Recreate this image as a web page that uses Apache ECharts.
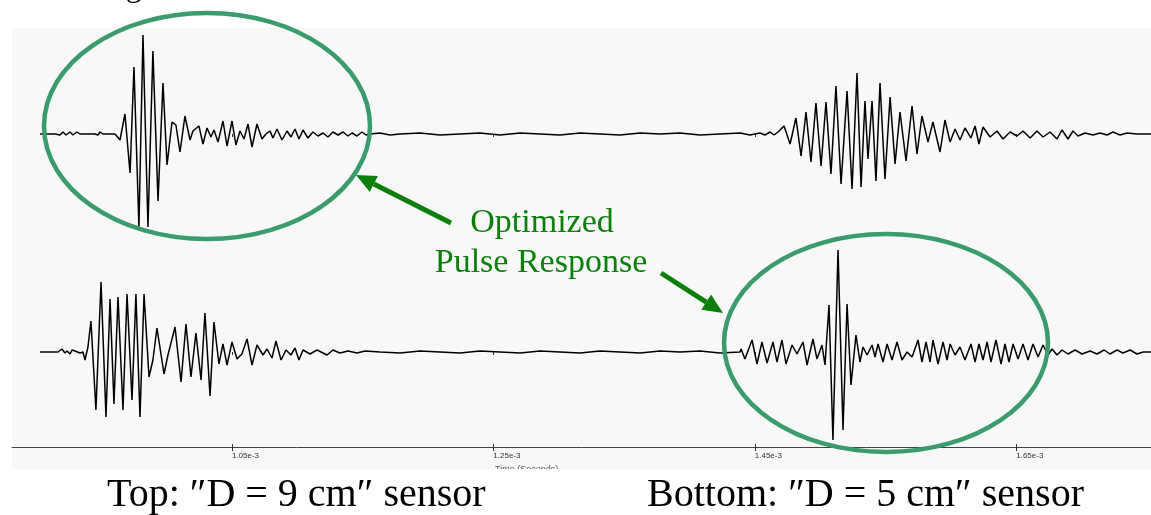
<!DOCTYPE html>
<html>
<head>
<meta charset="utf-8">
<script src="https://cdn.jsdelivr.net/npm/echarts@6/dist/echarts.min.js"></script>
<style>
  html, body { margin: 0; padding: 0; background: #ffffff; }
  #chart { width: 1151px; height: 515px; }
</style>
</head>
<body>
<div id="chart"></div>
<script>
// Time axis in microseconds; labels shown in seconds (e-3 notation)
const timeMin = 881.8;
const timeMax = 1753.1;
const tickTimes = [1050, 1250, 1450, 1650];

// Received waveform, "D = 9 cm" sensor: [time µs, amplitude]
const topTrace = [
  [903.2,0],[914.7,0],[918.5,-1],[920.8,2],[923.1,-1],[926.2,2],[928.4,-1],[931.5,2],[933.8,0],[945.3,0],
  [947.6,-1],[949.1,2],[951.4,0],[960.6,0],[962.1,2],[964.4,-6],[968.2,20],[972.1,-39],[975.1,67],[978.9,-93],
  [982.0,99],[985.8,-93],[989.6,83],[993.5,-67],[997.3,51],[1000.4,-31],[1004.2,12],[1007.2,9],[1010.3,-18],[1014.1,18],
  [1018.0,-6],[1020.2,3],[1024.8,8],[1027.9,-10],[1031.0,6],[1034.0,-3],[1036.3,4],[1039.4,-8],[1043.2,13],[1046.3,-12],
  [1050.1,13],[1053.1,-11],[1056.2,3],[1059.3,-5],[1062.3,10],[1065.4,-13],[1069.2,10],[1073.0,-5],[1076.1,0],[1079.2,3],
  [1081.4,-4],[1084.5,5],[1088.3,-6],[1092.2,3],[1095.2,-3],[1098.3,5],[1101.3,-5],[1104.4,4],[1108.2,-4],[1112.0,2],
  [1115.9,-2],[1119.7,1],[1123.5,-3],[1127.3,2],[1131.2,-1],[1135.0,2],[1138.8,-2],[1141.9,1],[1145.7,-2],[1149.5,2],
  [1152.6,-1],[1155.7,0],[1163.3,1],[1171.0,-1],[1178.6,0],[1193.9,1],[1209.2,-1],[1224.5,0],[1239.8,1],[1255.1,-1],
  [1270.4,1],[1285.7,0],[1301.0,-1],[1316.3,1],[1331.6,0],[1346.9,-1],[1362.2,1],[1377.5,0],[1392.8,1],[1408.1,-1],
  [1423.4,0],[1438.7,1],[1446.4,-1],[1454.0,1],[1457.8,-1],[1461.7,2],[1464.7,-1],[1467.8,2],[1472.4,8],[1477.0,-10],
  [1481.5,16],[1485.4,-22],[1489.2,22],[1493.0,-28],[1496.8,31],[1500.7,-32],[1504.5,32],[1508.3,-40],[1512.1,48],[1516.0,-50],
  [1520.6,43],[1524.4,-55],[1528.2,61],[1531.3,-53],[1534.3,33],[1536.6,-25],[1539.7,33],[1542.7,-47],[1545.8,51],[1549.6,-45],
  [1553.5,37],[1557.3,-30],[1561.1,22],[1565.7,-27],[1570.3,28],[1574.1,-20],[1577.9,18],[1582.5,-8],[1586.3,12],[1591.7,-18],
  [1595.5,14],[1599.4,-8],[1603.2,5],[1607.0,-6],[1610.8,6],[1615.4,-4],[1618.5,8],[1621.5,-10],[1624.6,7],[1630.0,-3],
  [1635.3,3],[1639.9,-5],[1645.3,2],[1650.6,-2],[1655.2,3],[1660.6,-4],[1665.9,3],[1670.5,-3],[1675.9,2],[1681.2,-5],
  [1685.0,4],[1689.6,-5],[1693.4,3],[1697.3,-2],[1702.6,1],[1708.7,-1],[1714.1,1],[1719.5,-1],[1724.0,2],[1729.4,-1],
  [1734.8,1],[1742.4,0],[1753.1,0]
];

// Received waveform, "D = 5 cm" sensor: [time µs, amplitude]
const bottomTrace = [
  [903.2,0],[917.0,0],[920.0,3],[922.3,-1],[923.9,1],[926.2,-2],[927.7,2],[930.0,1],[931.5,3],[933.8,-1],
  [936.1,0],[937.6,-8],[939.9,5],[942.2,31],[946.0,-58],[949.9,70],[953.7,-65],[956.8,53],[959.8,-52],[962.9,55],
  [966.7,-58],[969.8,58],[973.6,-48],[976.6,58],[979.7,-65],[982.8,58],[986.6,-25],[989.6,-8],[992.7,24],[998.1,-22],
  [1001.1,-3],[1006.5,25],[1011.1,-30],[1014.9,28],[1018.7,-25],[1022.5,19],[1026.4,-28],[1029.4,39],[1033.3,-44],[1036.3,30],
  [1040.1,-12],[1043.2,8],[1046.3,-13],[1050.1,10],[1053.9,-7],[1057.7,-2],[1061.6,13],[1065.4,-13],[1069.2,7],[1073.8,-3],
  [1076.9,3],[1080.7,-6],[1083.7,11],[1087.6,-8],[1091.4,2],[1095.2,-3],[1098.3,4],[1101.3,-8],[1104.4,2],[1109.8,-2],
  [1115.1,2],[1122.8,-3],[1127.3,2],[1132.7,-1],[1138.8,1],[1145.7,-1],[1151.8,1],[1163.3,0],[1178.6,-1],[1193.9,1],
  [1209.2,0],[1224.5,-1],[1239.8,1],[1255.1,0],[1270.4,-1],[1285.7,1],[1301.0,0],[1316.3,-1],[1331.6,1],[1346.9,0],
  [1362.2,-1],[1377.5,1],[1392.8,0],[1408.1,1],[1423.4,-1],[1438.7,0],[1439.5,3],[1442.5,-7],[1447.9,12],[1451.7,-12],
  [1455.5,10],[1459.4,-11],[1463.9,10],[1467.0,-10],[1470.8,12],[1473.9,-12],[1478.5,7],[1482.3,-2],[1486.9,10],[1490.0,-13],
  [1494.5,13],[1497.6,-7],[1501.4,7],[1503.7,-13],[1506.8,47],[1509.8,-88],[1513.7,102],[1517.5,-78],[1520.6,48],[1523.6,-33],
  [1527.4,17],[1530.5,-10],[1532.8,5],[1535.9,-3],[1539.7,7],[1542.0,-5],[1544.3,8],[1548.1,-10],[1551.2,8],[1555.0,-8],
  [1558.8,10],[1562.6,-8],[1566.5,0],[1570.3,-5],[1574.9,12],[1577.9,-10],[1581.0,10],[1584.1,-10],[1586.3,12],[1590.2,-12],
  [1594.0,10],[1597.1,-8],[1599.4,8],[1603.2,-3],[1607.0,5],[1610.8,-8],[1615.4,8],[1618.5,-10],[1621.5,8],[1624.6,-8],
  [1627.7,10],[1630.7,-10],[1634.5,12],[1638.4,-12],[1641.4,8],[1644.5,-10],[1647.6,8],[1651.4,-7],[1655.2,8],[1659.0,-8],
  [1662.8,8],[1666.7,-5],[1670.5,7],[1674.3,-3],[1677.4,3],[1681.2,-3],[1685.0,2],[1689.6,-2],[1695.0,2],[1700.3,-2],
  [1706.5,1],[1711.8,-2],[1717.2,2],[1721.8,-2],[1727.1,2],[1731.7,-1],[1737.1,2],[1742.4,-2],[1747.0,0],[1753.1,0]
];

const captionTop = 'Top: \u2033D = 9 cm\u2033 sensor';
const captionBottom = 'Bottom: \u2033D = 5 cm\u2033 sensor';
const calloutLines = ['Optimized', 'Pulse Response'];
const axisTitle = 'Time (Seconds)';

const serif = '"Liberation Serif", "Times New Roman", serif';
const sans = '"Liberation Sans", Arial, sans-serif';
const green = '#0a7f0a';
const ringColor = '#3a9b6c';
const fmt = v => (v / 1000).toFixed(2) + 'e-3';

function edgeTicks(gridIndex, position) {
  return {
    type: 'value', gridIndex, position, min: timeMin, max: timeMax,
    axisLine: { show: false }, splitLine: { show: false },
    axisTick: { show: true, inside: true, length: 3, customValues: tickTimes, lineStyle: { color: '#333' } },
    axisLabel: { show: false }
  };
}

function arrow(x1, y1, x2, y2) {
  const dx = x2 - x1, dy = y2 - y1, len = Math.hypot(dx, dy);
  const ux = dx / len, uy = dy / len, hl = 20, hw = 9;
  const bx = x2 - ux * hl, by = y2 - uy * hl;
  return [
    { type: 'line', z: 20, shape: { x1, y1, x2: bx, y2: by }, style: { stroke: green, lineWidth: 5 } },
    { type: 'polygon', z: 20, shape: { points: [[x2, y2], [bx - uy * hw, by + ux * hw], [bx + uy * hw, by - ux * hw]] }, style: { fill: green } }
  ];
}

const traceStyle = { color: '#000', width: 1.5 };

const chart = echarts.init(document.getElementById('chart'), null, { renderer: 'canvas' });

chart.setOption({
  animation: false,
  backgroundColor: '#ffffff',
  grid: [
    { left: 12, right: 0, top: 29, height: 210 },
    { left: 12, right: 0, top: 240, height: 207 }
  ],
  xAxis: [
    edgeTicks(0, 'top'),
    edgeTicks(1, 'top'),
    {
      type: 'value', gridIndex: 1, position: 'bottom', min: timeMin, max: timeMax,
      axisLine: { show: true, lineStyle: { color: '#444', width: 1 } },
      splitLine: { show: false },
      axisTick: { show: true, length: 4, customValues: tickTimes, lineStyle: { color: '#333' } },
      axisLabel: { show: true, customValues: tickTimes, formatter: fmt, align: 'left', margin: 5,
                   fontSize: 8, color: '#333', fontFamily: sans }
    },
    edgeTicks(1, 'bottom')
  ],
  yAxis: [
    { type: 'value', gridIndex: 0, min: -105, max: 105, show: false },
    { type: 'value', gridIndex: 1, min: -95, max: 112, show: false }
  ],
  series: [
    { type: 'line', xAxisIndex: 0, yAxisIndex: 0, data: topTrace, showSymbol: false,
      lineStyle: traceStyle, z: 3 },
    { type: 'line', xAxisIndex: 1, yAxisIndex: 1, data: bottomTrace, showSymbol: false,
      lineStyle: traceStyle, z: 3 }
  ],
  graphic: [
    // plot panel backdrop
    { type: 'rect', z: -10, silent: true, shape: { x: 12, y: 28, width: 1139, height: 441 }, style: { fill: '#f8f8f8' } },
    { type: 'text', z: 4, x: 495, y: 465, style: { text: axisTitle, font: '9px ' + sans, fill: '#555' } },
    // caption strip
    { type: 'rect', z: 15, silent: true, shape: { x: 0, y: 469, width: 1151, height: 46 }, style: { fill: '#ffffff' } },
    { type: 'text', z: 16, left: 99, top: -28, style: { text: 'Fig', font: '32px ' + serif, fill: '#000' } },
    { type: 'text', z: 16, left: 107, top: 475, style: { text: captionTop, font: '40px ' + serif, fill: '#000' } },
    { type: 'text', z: 16, left: 647, top: 475, style: { text: captionBottom, font: '40px ' + serif, fill: '#000' } },
    // highlighted regions
    { type: 'ellipse', z: 18, shape: { cx: 207, cy: 126, rx: 163, ry: 113 }, style: { fill: null, stroke: ringColor, lineWidth: 4.5 } },
    { type: 'ellipse', z: 18, shape: { cx: 886, cy: 343, rx: 162, ry: 109 }, style: { fill: null, stroke: ringColor, lineWidth: 4.5 } },
    ...arrow(451, 223, 356, 175),
    ...arrow(661, 273, 723, 313),
    { type: 'text', z: 20, x: 542, y: 206, style: { text: calloutLines[0], font: '34px ' + serif, fill: green, textAlign: 'center', textVerticalAlign: 'top' } },
    { type: 'text', z: 20, x: 541, y: 246, style: { text: calloutLines[1], font: '34px ' + serif, fill: green, textAlign: 'center', textVerticalAlign: 'top' } }
  ]
});
</script>
</body>
</html>
